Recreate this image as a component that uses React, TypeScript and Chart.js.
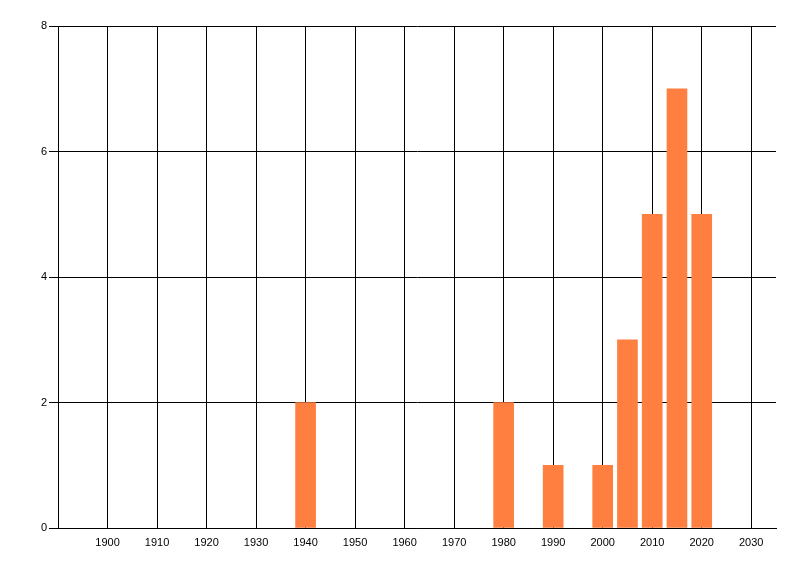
import { useEffect, useRef } from "react"
import { Chart, registerables, type ChartConfiguration } from "chart.js"

Chart.register(...registerables)

const years = [1940, 1980, 1990, 2000, 2005, 2010, 2015, 2020]
const counts = [2, 2, 1, 1, 3, 5, 7, 5]
const yearTicks = [1900, 1910, 1920, 1930, 1940, 1950, 1960, 1970, 1980, 1990, 2000, 2010, 2020, 2030]

export default function App() {
  const chartRef = useRef<HTMLCanvasElement>(null)

  useEffect(() => {
    if (!chartRef.current) return
    const ctx = chartRef.current.getContext("2d")
    if (!ctx) return

    const font = { family: "'Liberation Sans', Arial, sans-serif", size: 11 }

    const chartConfig: ChartConfiguration<"bar"> = {
      type: "bar",
      data: {
        datasets: [
          {
            data: years.map((y, i) => ({ x: y, y: counts[i] })) as any,
            backgroundColor: "#FF7F40",
            barThickness: 20,
          },
        ],
      },
      options: {
        animation: false,
        responsive: true,
        maintainAspectRatio: false,
        layout: { padding: { top: 26, right: 24, left: 0, bottom: 0 } },
        plugins: {
          legend: { display: false },
          tooltip: { enabled: false },
        },
        scales: {
          x: {
            type: "linear",
            min: 1890,
            max: 2035,
            offset: false,
            grid: { color: "#000", lineWidth: 1, drawTicks: false, offset: false },
            border: { color: "#000", width: 1 },
            ticks: {
              color: "#000",
              font,
              padding: 8,
              maxRotation: 0,
              autoSkip: false,
              callback: (v) => String(v),
            },
            afterBuildTicks: (scale) => {
              scale.ticks = yearTicks.map((value) => ({ value }))
            },
            afterFit: (scale) => {
              scale.height = 48
            },
          },
          y: {
            min: 0,
            max: 8,
            grid: { color: "#000", lineWidth: 1, tickLength: 9 },
            border: { color: "#000", width: 1 },
            ticks: { stepSize: 2, color: "#000", font, padding: 2 },
            afterFit: (scale) => {
              scale.width = 58
            },
          },
        },
      },
    }

    const newChart = new Chart(ctx, chartConfig)
    return () => newChart.destroy()
  }, [])

  return (
    <div style={{ position: "fixed", top: 0, left: 0, width: 800, height: 576, background: "#fff" }}>
      <canvas ref={chartRef} />
    </div>
  )
}
